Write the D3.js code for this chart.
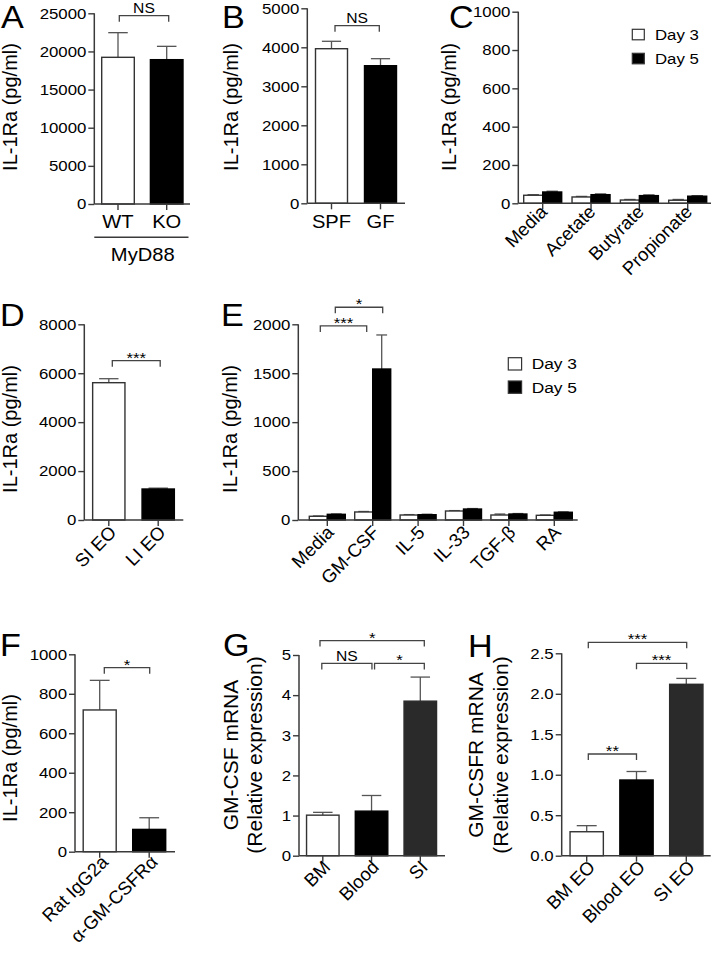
<!DOCTYPE html>
<html lang="en">
<head>
<meta charset="UTF-8">
<title>IL-1Ra panels</title>
<script src="https://cdn.jsdelivr.net/npm/d3@7"></script>
<style>
  body { margin: 0; background: #fff; }
  text { font-family: "Liberation Sans", Arial, Helvetica, sans-serif; fill: #000; }
</style>
</head>
<body>
<svg id="fig" width="712" height="955"></svg>
<script>
// ---- data ----
let a_cats = ["WT", "KO"]
let a_vals = [19230, 18920]
let a_err = [3230, 1750]

let b_cats = ["SPF", "GF"]
let b_vals = [3964, 3528]
let b_err = [190, 180]

let c_cats = ["Media", "Acetate", "Butyrate", "Propionate"]
let c_day3 = [42, 33, 17, 16]
let c_day5 = [59, 45, 40, 37]
let c_err3 = [3, 3, 3, 4]
let c_err5 = [4, 4, 4, 3]

let d_cats = ["SI EO", "LI EO"]
let d_vals = [5613, 1267]
let d_err = [163, 35]

let e_cats = ["Media", "GM-CSF", "IL-5", "IL-33", "TGF-β", "RA"]
let e_day3 = [38, 82, 51, 92, 51, 48]
let e_day5 = [58, 1543, 54, 112, 61, 79]
let e_err3 = [3, 5, 4, 4, 10, 3]
let e_err5 = [4, 348, 5, 5, 5, 4]

let f_cats = ["Rat IgG2a", "α-GM-CSFRα"]
let f_vals = [718, 113]
let f_err = [150, 59]

let g_cats = ["BM", "Blood", "SI"]
let g_vals = [1.01, 1.11, 3.85]
let g_err = [0.07, 0.39, 0.60]

let h_cats = ["BM EO", "Blood EO", "SI EO"]
let h_vals = [0.296, 0.935, 2.117]
let h_err = [0.075, 0.105, 0.073]

let legend_names = ["Day 3", "Day 5"]
let bar_fills = ["#ffffff", "#000000", "#2a2a2a"]

const SX = 1.12   // the figure's text is a little wider than tall
const LINE = "#3a3a3a"

let svg = d3.select("#fig")
svg.append("rect").attr("width", 712).attr("height", 955).attr("fill", "#fff")

function txt(g, x, y, s, o) {
    o = o || {}
    return g.append("text")
        .attr("transform", `translate(${x},${y}) scale(${SX},1)`)
        .attr("font-size", o.size || 15)
        .attr("text-anchor", o.anchor || "start")
        .attr("y", o.dy || 0)
        .text(s)
}

// rotated text: rotation sits on a wrapper group, the text itself is plain
function rtxt(g, x, y, s, angle, o) {
    let w = g.append("g").attr("transform", `translate(${x},${y}) rotate(${angle})`)
    return w.append("text")
        .attr("x", 0).attr("y", o.dy || 0)
        .attr("font-size", o.size)
        .attr("text-anchor", o.anchor || "middle")
        .text(s)
}

function panel(p) {
    let g = svg.append("g")
    let y = d3.scaleLinear().domain([0, p.max]).range([p.yBot, p.yTop])
    let x = d3.scalePoint().domain(p.cats).range([p.c0, p.c1])
    let fmt = p.fmt || d3.format("d")

    // y axis: ticks from d3, labels drawn separately so they can be widened
    let yAxis = d3.axisLeft(y).tickValues(d3.range(0, p.max + p.step / 2, p.step))
        .tickSize(6).tickFormat(fmt)
    let ya = g.append("g").attr("transform", `translate(${p.x0},0)`).call(yAxis)
    ya.select(".domain").remove()
    ya.selectAll("line").attr("stroke", LINE).attr("stroke-width", 1.4)
    ya.selectAll("text").remove()
    yAxis.tickValues().forEach(v => txt(g, p.x0 - 8, y(v), fmt(v), {anchor: "end", dy: 5.3, size: 15}))
    g.append("line").attr("x1", p.x0).attr("x2", p.x0).attr("y1", p.yTop).attr("y2", p.yBot)
        .attr("stroke", LINE).attr("stroke-width", 1.5)

    // bars
    let series = p.series
    series.forEach((s, si) => {
        let off = series.length === 1 ? -p.bw / 2 : (si === 0 ? -p.bw : 0)
        p.cats.forEach((c, i) => {
            let fill = series.length === 1 ? bar_fills[Math.min(i, 2)] : bar_fills[si]
            let bx = x(c) + off
            let top = y(s.vals[i])
            let et = y(s.vals[i] + s.err[i])
            let mid = bx + p.bw / 2
            let cap = p.bw * 0.3
            g.append("line").attr("x1", mid).attr("x2", mid).attr("y1", top).attr("y2", et)
                .attr("stroke", "#555").attr("stroke-width", 1.3)
            g.append("line").attr("x1", mid - cap).attr("x2", mid + cap).attr("y1", et).attr("y2", et)
                .attr("stroke", "#555").attr("stroke-width", 1.3)
            g.append("rect").attr("x", bx).attr("y", top).attr("width", p.bw)
                .attr("height", p.yBot - top)
                .attr("fill", fill).attr("stroke", fill === "#ffffff" ? "#333" : fill)
                .attr("stroke-width", 1.4)
        })
    })

    // x axis
    g.append("line").attr("x1", p.x0).attr("x2", p.x1).attr("y1", p.yBot).attr("y2", p.yBot)
        .attr("stroke", LINE).attr("stroke-width", 1.5)
    p.cats.forEach(c => {
        g.append("line").attr("x1", x(c)).attr("x2", x(c)).attr("y1", p.yBot).attr("y2", p.yBot + 6)
            .attr("stroke", LINE).attr("stroke-width", 1.4)
        if (p.rot) {
            rtxt(g, x(c) + p.lab[0], p.yBot + p.lab[1], c, -45, {anchor: "end", dy: 6.5, size: 18.5})
        } else {
            txt(g, x(c), p.labY, c, {anchor: "middle", size: 18})
        }
    })

    // significance brackets
    ;(p.sig || []).forEach(b => {
        let xa, xb
        if (b.s != null) {
            let off = b.s === 0 ? -p.bw / 2 : p.bw / 2
            xa = x(p.cats[b.a]) + off + (b.da || 0)
            xb = x(p.cats[b.b]) + off + (b.db || 0)
        } else {
            xa = x(p.cats[b.a]) + (b.da || 0)
            xb = x(p.cats[b.b]) + (b.db || 0)
        }
        let yy = y(b.y)
        g.append("path").attr("d", `M${xa},${yy + 6}V${yy}H${xb}V${yy + 6}`)
            .attr("fill", "none").attr("stroke", "#444").attr("stroke-width", 1.3)
        let ns = b.label === "NS"
        txt(g, (xa + xb) / 2, ns ? yy - 2.5 : yy + 2, b.label, {anchor: "middle", size: ns ? 14 : 15})
    })

    // axis title
    p.ylab.forEach((l, i) => {
        rtxt(g, p.ylx[i], p.yly, l, -90, {anchor: "middle", dy: 7, size: p.ylsize || 20})
    })
    // panel letter
    txt(g, p.lx, p.ly, p.letter, {size: 30.5})

    // legend
    if (p.legend) {
        let L = p.legend
        legend_names.forEach((n, i) => {
            g.append("rect").attr("x", L.x).attr("y", L.y + i * L.gap).attr("width", L.w).attr("height", L.h)
                .attr("fill", bar_fills[i]).attr("stroke", "#333").attr("stroke-width", 1.2)
            txt(g, L.tx, L.y + i * L.gap + L.h / 2, n, {dy: 5.4, size: L.size})
        })
    }
    return {g, x, y}
}

let ylab1 = ["IL-1Ra (pg/ml)"]

let A = panel({letter: "A", lx: 1, ly: 27.6, cats: a_cats, series: [{vals: a_vals, err: a_err}],
    x0: 94.3, x1: 190, yTop: 13.3, yBot: 204, max: 25000, step: 5000, c0: 118, c1: 166.7, bw: 32.6,
    labY: 227.7, ylab: ylab1, ylx: [9.5], yly: 107,
    sig: [{a: 0, b: 1, y: 24685, label: "NS", da: 1.3, db: 2}]})
// MyD88 group line under A
A.g.append("line").attr("x1", 94.3).attr("x2", 188.5).attr("y1", 237.3).attr("y2", 237.3)
    .attr("stroke", LINE).attr("stroke-width", 1.4)
txt(A.g, 142.8, 261, "MyD88", {anchor: "middle", size: 18})

panel({letter: "B", lx: 222, ly: 27.6, cats: b_cats, series: [{vals: b_vals, err: b_err}],
    x0: 307.3, x1: 405, yTop: 8.3, yBot: 203.3, max: 5000, step: 1000, c0: 331.5, c1: 380.5, bw: 32,
    labY: 228, ylab: ylab1, ylx: [231], yly: 107,
    sig: [{a: 0, b: 1, y: 4554, label: "NS", da: 3.5, db: -1.2}]})

panel({letter: "C", lx: 449, ly: 27.6, cats: c_cats,
    series: [{vals: c_day3, err: c_err3}, {vals: c_day5, err: c_err5}],
    x0: 518.3, x1: 711, yTop: 11.7, yBot: 203.3, max: 1000, step: 200, c0: 542.7, c1: 687.7, bw: 19,
    rot: true, lab: [1, 5], ylab: ylab1, ylx: [449], yly: 107,
    legend: {x: 632.3, y: 29.3, w: 12, h: 10.5, gap: 24, tx: 655, size: 15}})

panel({letter: "D", lx: 0, ly: 326, cats: d_cats, series: [{vals: d_vals, err: d_err}],
    x0: 84.3, x1: 183.3, yTop: 324.3, yBot: 520, max: 8000, step: 2000, c0: 108.8, c1: 158.2, bw: 32.3,
    rot: true, lab: [4, 9], ylab: ylab1, ylx: [9.5], yly: 429,
    sig: [{a: 0, b: 1, y: 6512, label: "***", da: 3.5, db: 2}]})

panel({letter: "E", lx: 221, ly: 326, cats: e_cats,
    series: [{vals: e_day3, err: e_err3}, {vals: e_day5, err: e_err5}],
    x0: 298.3, x1: 577.7, yTop: 324.3, yBot: 520, max: 2000, step: 500, c0: 327.3, c1: 554.3, bw: 18,
    rot: true, lab: [3, 9], ylab: ylab1, ylx: [230], yly: 429,
    legend: {x: 508.3, y: 357.7, w: 13.3, h: 12.3, gap: 23.3, tx: 531.7, size: 15.5},
    sig: [{a: 0, b: 1, s: 0, y: 1983, label: "***", da: 2, db: 3},
          {a: 0, b: 1, s: 1, y: 2174, label: "*", da: -1, db: 1}]})

panel({letter: "F", lx: 0, ly: 656, cats: f_cats, series: [{vals: f_vals, err: f_err}],
    x0: 75, x1: 175, yTop: 654.3, yBot: 851.7, max: 1000, step: 200, c0: 99.7, c1: 149.2, bw: 33,
    rot: true, lab: [5, 7], ylab: ylab1, ylx: [9.5], yly: 758,
    sig: [{a: 0, b: 1, y: 932, label: "*", da: 4.6, db: 0.5}]})

panel({letter: "G", lx: 223, ly: 656, cats: g_cats, series: [{vals: g_vals, err: g_err}],
    x0: 299, x1: 445, yTop: 655, yBot: 855.7, max: 5, step: 1, c0: 322.8, c1: 420.3, bw: 32.5,
    rot: true, lab: [4, 8], ylab: ["GM-CSF mRNA", "(Relative expression)"], ylx: [231, 255], yly: 755,
    ylsize: 21,
    sig: [{a: 0, b: 1, y: 4.79, label: "NS", da: -1, db: 0.4},
          {a: 1, b: 2, y: 4.79, label: "*", da: 3, db: 4},
          {a: 0, b: 2, y: 5.36, label: "*", da: -2.8, db: 4}]})

panel({letter: "H", lx: 468, ly: 657, cats: h_cats, series: [{vals: h_vals, err: h_err}],
    x0: 561.7, x1: 710.7, yTop: 653.3, yBot: 855.7, max: 2.5, step: 0.5, c0: 586.7, c1: 686.3, bw: 33.3,
    fmt: d3.format(".1f"),
    rot: true, lab: [5, 8], ylab: ["GM-CSFR mRNA", "(Relative expression)"], ylx: [476, 501], yly: 755,
    ylsize: 21,
    sig: [{a: 0, b: 1, y: 1.256, label: "**", da: 1.6, db: 0},
          {a: 1, b: 2, y: 2.376, label: "***", da: 0, db: 0.4},
          {a: 0, b: 2, y: 2.636, label: "***", da: 1.6, db: 0.4}]})
</script>
</body>
</html>
